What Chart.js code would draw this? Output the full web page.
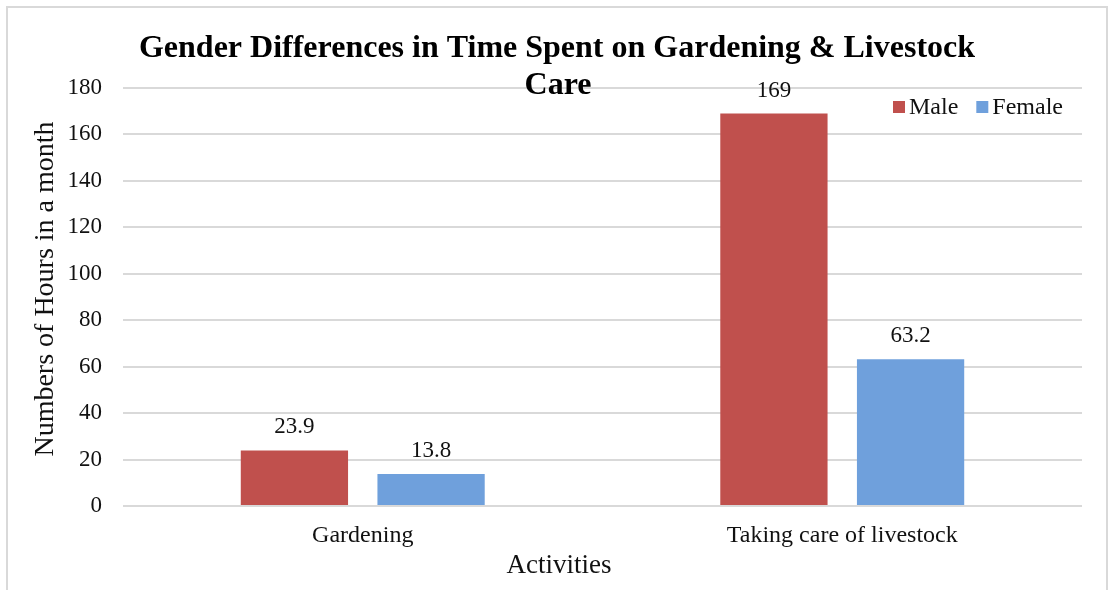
<!DOCTYPE html>
<html>
<head>
<meta charset="utf-8">
<script src="https://cdn.jsdelivr.net/npm/chart.js@4.4.1/dist/chart.umd.min.js"></script>
<style>
  html, body { margin: 0; padding: 0; background: #fff; }
  #wrap { width: 1109px; height: 590px; position: relative; }
</style>
</head>
<body>
<div id="wrap"><canvas id="genderChart"></canvas></div>
<script>
// chart data
const categories = ['Gardening', 'Taking care of livestock'];
const maleHours = [23.9, 169];
const femaleHours = [13.8, 63.2];
const seriesNames = ['Male', 'Female'];
const yMin = 0, yMax = 180, yStep = 20;

const titleLines = ['Gender Differences in Time Spent on Gardening & Livestock', 'Care'];
const xTitle = 'Activities';
const yTitle = 'Numbers of Hours in a month';

const SERIF = "'Liberation Serif', 'Times New Roman', serif";
const RED = '#C0504D';
const BLUE = '#6FA0DC';
const GRID = '#d9d9d9';
const TEXT = '#111111';

// frame, titles, legend and value labels drawn straight onto the canvas
const decor = {
    id: 'decor',
    beforeDraw(chart) {
        const ctx = chart.ctx;
        ctx.save();
        ctx.strokeStyle = GRID;
        ctx.lineWidth = 2;
        ctx.strokeRect(7, 7, chart.width - 9, chart.height + 20);
        ctx.restore();
    },
    afterDatasetsDraw(chart) {
        const ctx = chart.ctx;
        ctx.save();
        ctx.font = '23px ' + SERIF;
        ctx.fillStyle = TEXT;
        ctx.textAlign = 'center';
        ctx.textBaseline = 'alphabetic';
        chart.data.datasets.forEach((ds, i) => {
            chart.getDatasetMeta(i).data.forEach((bar, j) => {
                ctx.fillText(String(ds.data[j]), bar.x, bar.y - 17);
            });
        });
        ctx.restore();
    },
    afterDraw(chart) {
        const ctx = chart.ctx;
        ctx.save();
        ctx.fillStyle = '#000';
        ctx.textAlign = 'center';
        ctx.textBaseline = 'alphabetic';

        // title (wraps onto a second line that sits over the plot)
        ctx.font = 'bold 32px ' + SERIF;
        ctx.fillText(titleLines[0], 557, 57);
        ctx.fillText(titleLines[1], 558, 94);

        // axis titles
        ctx.fillStyle = TEXT;
        ctx.font = '27px ' + SERIF;
        ctx.fillText(xTitle, 559, 573);
        ctx.font = '28px ' + SERIF;
        ctx.save();
        ctx.translate(53, 289);
        ctx.rotate(-Math.PI / 2);
        ctx.fillText(yTitle, 0, 0);
        ctx.restore();

        // legend, top right inside the plot
        ctx.font = '24px ' + SERIF;
        ctx.textAlign = 'left';
        ctx.textBaseline = 'middle';
        let x = 893;
        const y = 107;
        chart.data.datasets.forEach(ds => {
            ctx.fillStyle = ds.backgroundColor;
            ctx.fillRect(x, y - 6, 12, 12);
            ctx.fillStyle = TEXT;
            ctx.fillText(ds.label, x + 16, y + 1);
            x += 16 + ctx.measureText(ds.label).width + 18;
        });
        ctx.restore();
    }
};

new Chart(document.getElementById('genderChart'), {
    type: 'bar',
    data: {
        labels: categories,
        datasets: [
            { label: seriesNames[0], data: maleHours, backgroundColor: RED },
            { label: seriesNames[1], data: femaleHours, backgroundColor: BLUE }
        ]
    },
    options: {
        responsive: true,
        maintainAspectRatio: false,
        animation: false,
        categoryPercentage: 0.57,
        barPercentage: 0.785,
        layout: { padding: { top: 88, right: 27, left: 0, bottom: 0 } },
        plugins: {
            legend: { display: false },
            title: { display: false },
            tooltip: { enabled: false }
        },
        scales: {
            x: {
                grid: { display: false, drawTicks: false },
                border: { display: false },
                ticks: {
                    color: TEXT,
                    font: { family: SERIF, size: 24 },
                    padding: 15,
                    maxRotation: 0
                },
                afterFit(scale) { scale.height = 84; }
            },
            y: {
                min: yMin,
                max: yMax,
                grid: { color: GRID, lineWidth: 2, drawTicks: false },
                border: { display: false },
                ticks: {
                    stepSize: yStep,
                    color: TEXT,
                    font: { family: SERIF, size: 23 },
                    padding: 21
                },
                afterFit(scale) { scale.width = 123; }
            }
        }
    },
    plugins: [decor]
});
</script>
</body>
</html>
